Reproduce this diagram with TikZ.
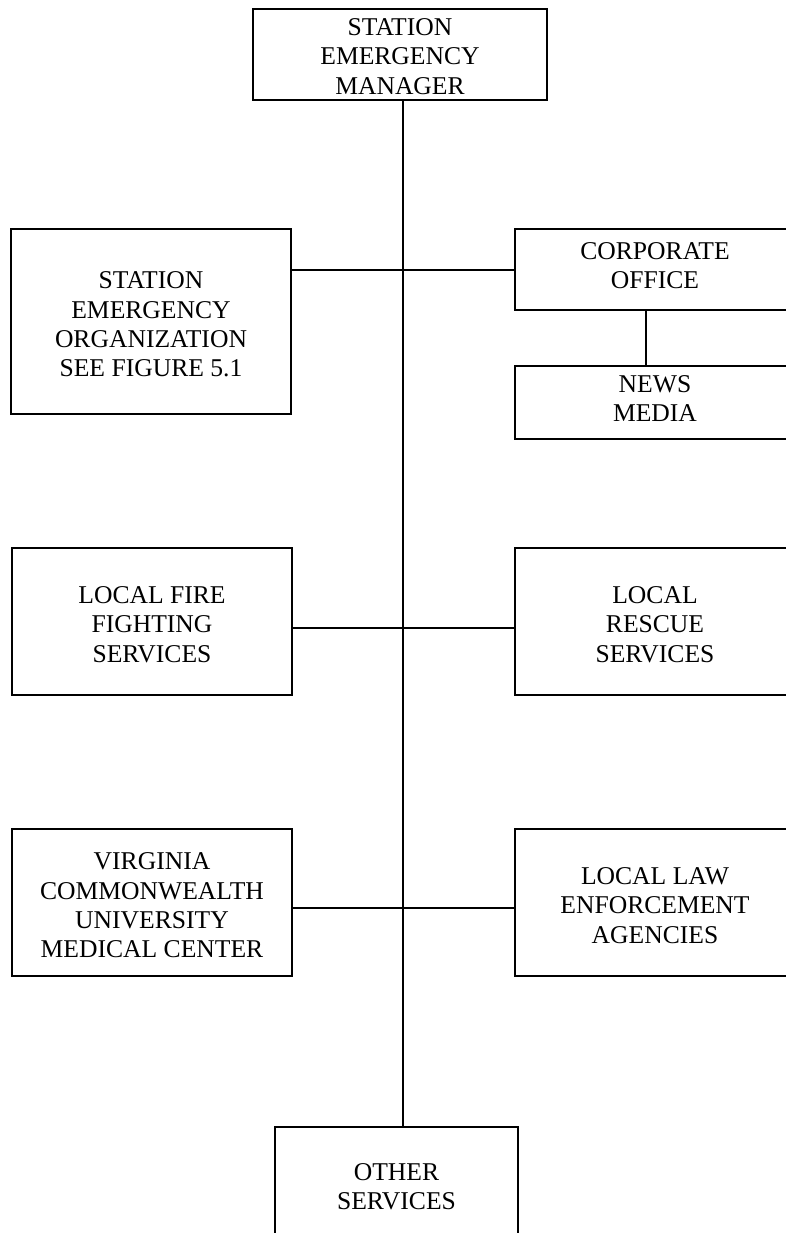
\documentclass[tikz,border=0pt]{standalone}
\usepackage{fontspec}
\setmainfont{Liberation Serif}
\begin{document}
\begin{tikzpicture}[x=1pt,y=-1pt,
  orgbox/.style={draw, line width=2pt, rectangle, inner sep=0pt},
  boxtext/.style={inner sep=0pt, align=center,
    font=\fontsize{25.6pt}{29.3pt}\selectfont},
  link/.style={line width=2pt}]
\useasboundingbox (0,0) rectangle (786,1233);
\clip (0,0) rectangle (786,1233);
\fill[white] (0,0) rectangle (786,1233);

% frames
\node[orgbox, minimum width=294pt, minimum height=91pt]  (sem)    at (400,54.5)  {};
\node[orgbox, minimum width=280pt, minimum height=185pt] (seo)    at (151,321.5) {};
\node[orgbox, minimum width=280pt, minimum height=81pt]  (corp)   at (655,269.5) {};
\node[orgbox, minimum width=280pt, minimum height=73pt]  (news)   at (655,402.5) {};
\node[orgbox, minimum width=280pt, minimum height=147pt] (fire)   at (152,621.5) {};
\node[orgbox, minimum width=280pt, minimum height=147pt] (rescue) at (655,621.5) {};
\node[orgbox, minimum width=280pt, minimum height=147pt] (vcu)    at (152,902.5) {};
\node[orgbox, minimum width=280pt, minimum height=147pt] (law)    at (655,902.5) {};
\node[orgbox, minimum width=243pt, minimum height=120pt] (other)  at (396.5,1187) {};

% labels
\node[boxtext] (semT)    at ([yshift=-2pt]sem.center)    {STATION\\EMERGENCY\\MANAGER};
\node[boxtext] (seoT)    at ([yshift=-3pt]seo.center)    {STATION\\EMERGENCY\\ORGANIZATION\\SEE FIGURE 5.1};
\node[boxtext] (corpT)   at ([yshift=4pt]corp.center)    {CORPORATE\\OFFICE};
\node[boxtext] (newsT)   at ([yshift=4pt]news.center)    {NEWS\\MEDIA};
\node[boxtext] (fireT)   at ([yshift=-3pt]fire.center)   {LOCAL FIRE\\FIGHTING\\SERVICES};
\node[boxtext] (rescueT) at ([yshift=-3pt]rescue.center) {LOCAL\\RESCUE\\SERVICES};
\node[boxtext] (vcuT)    at ([yshift=-3pt]vcu.center)    {VIRGINIA\\COMMONWEALTH\\UNIVERSITY\\MEDICAL CENTER};
\node[boxtext] (lawT)    at ([yshift=-3pt]law.center)    {LOCAL LAW\\ENFORCEMENT\\AGENCIES};
\node[boxtext] (otherT)  at (other.center)               {OTHER\\SERVICES};

% trunk line
\draw[link] ([xshift=3pt]sem.south) -- ([xshift=3pt]sem.south |- other.north);

% branches
\draw[link] (seo.east |- corp.west) -- (corp.west);
\draw[link] ([xshift=-9pt]corp.south) -- ([xshift=-9pt]news.north);
\draw[link] ([yshift=-6.5pt]fire.east) -- ([yshift=-6.5pt]rescue.west);
\draw[link] ([yshift=-5.5pt]vcu.east) -- ([yshift=-5.5pt]law.west);
\end{tikzpicture}
\end{document}
